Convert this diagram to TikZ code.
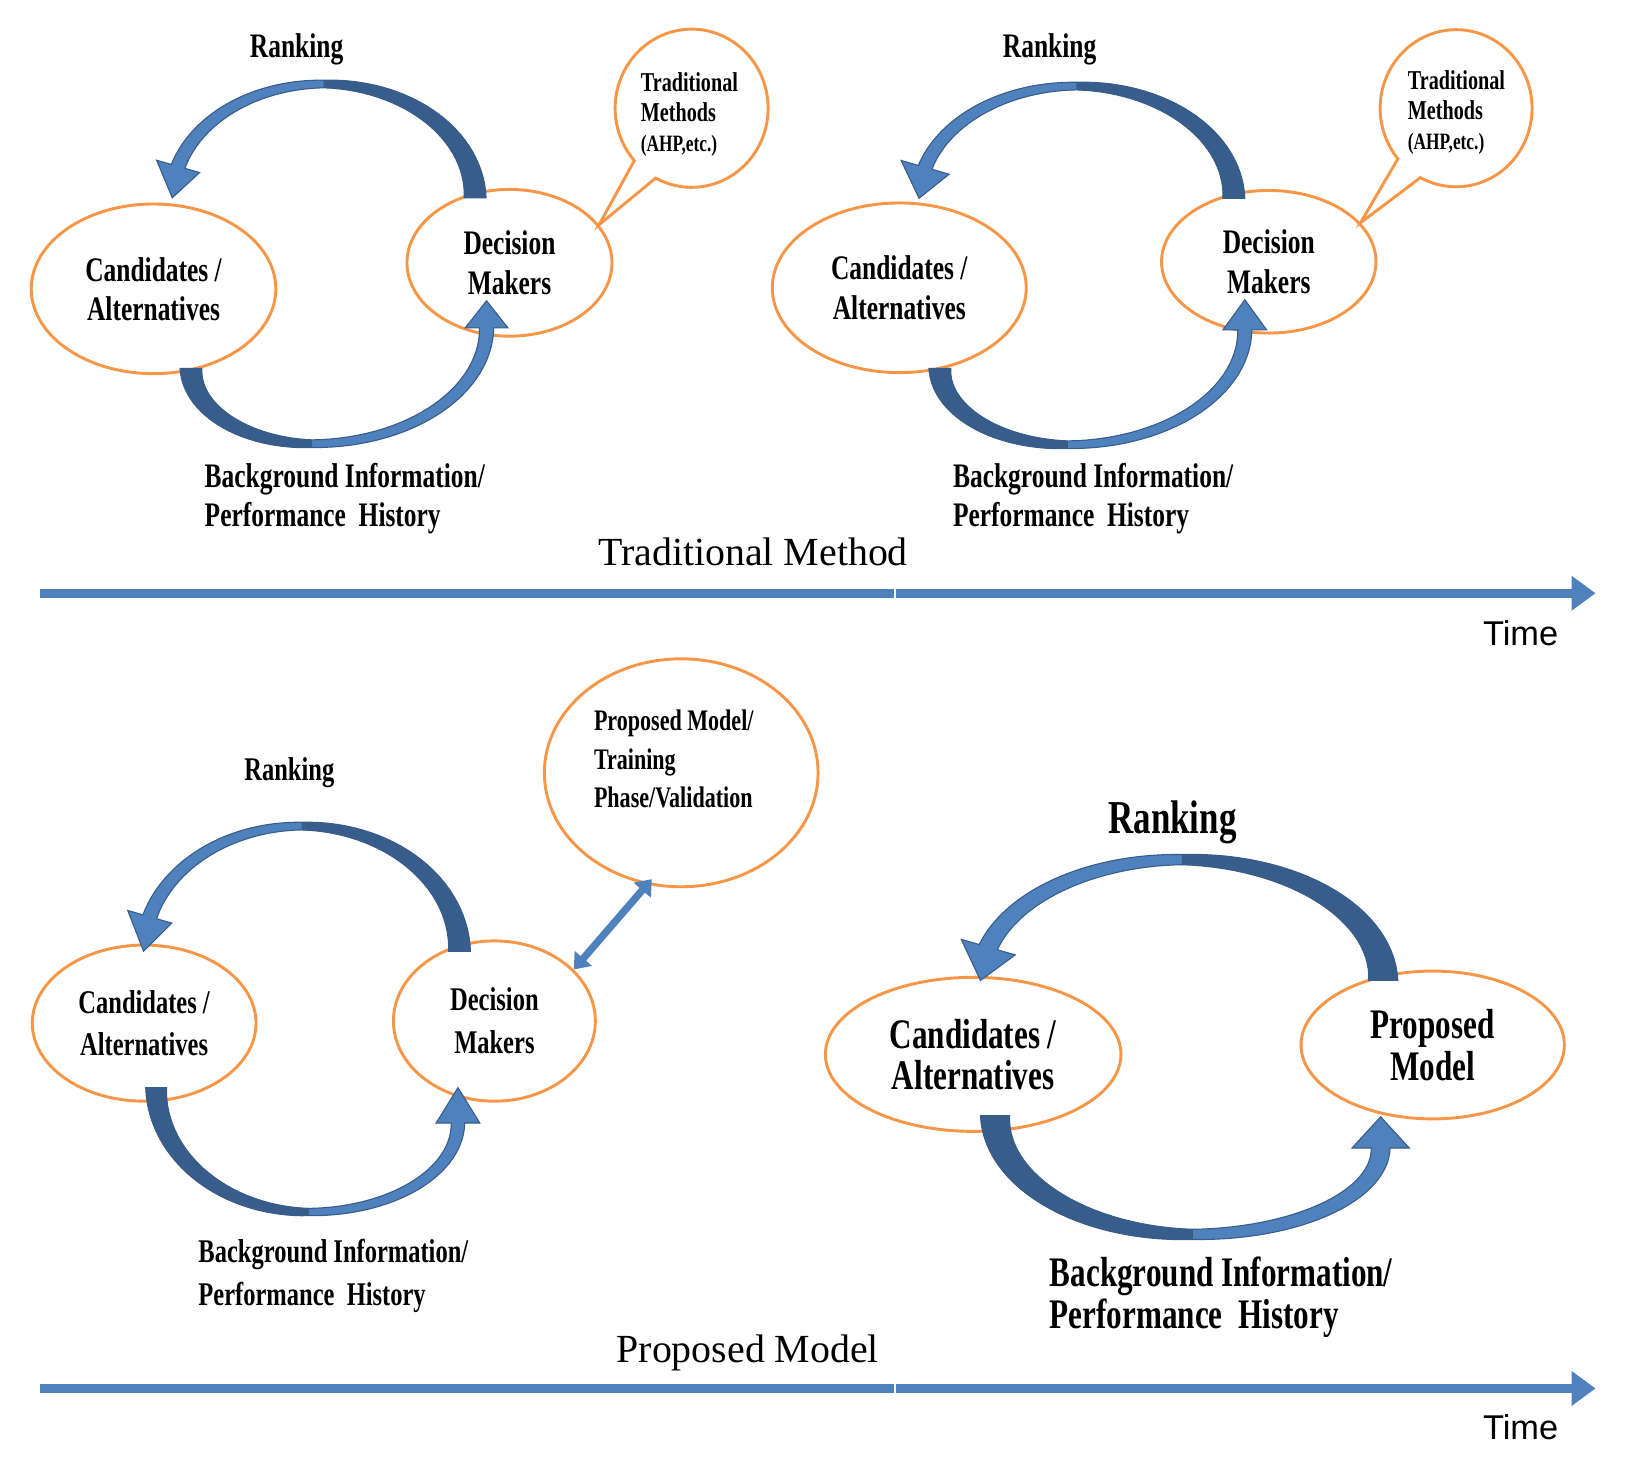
\documentclass[tikz,border=0pt]{standalone}
\usepackage{fontspec}
\setmainfont{Liberation Serif}
\newfontfamily\labelfont[FakeStretch=0.74]{Liberation Serif}
\newfontfamily\timefont{Liberation Sans}
\usepackage{tikz}
\usetikzlibrary{shapes.geometric,arrows.meta}
\definecolor{ringorange}{RGB}{247,150,70}
\definecolor{loopblue}{RGB}{79,129,189}
\definecolor{loopdark}{RGB}{56,93,138}

\newcommand{\RankArrow}[6]{%
\pgfmathsetmacro{\bandw}{0.65*#5}\pgfmathsetmacro{\peakw}{0.35*#5}%
\filldraw[loopbody] plot[domain=0:-90] ({#1+(#3+#5+(#5-\peakw)*(\x)/90)*cos(\x)},{#2+(#4+#5+(#5-\peakw)*(\x)/90)*sin(\x)}) -- plot[domain=-90:-164] ({#1+(#3+\peakw+(\bandw-\peakw)*(-90-(\x))/74)*cos(\x)},{#2+(#4+\peakw+(\bandw-\peakw)*(-90-(\x))/74)*sin(\x)}) -- ({#1+(#3+#6)*cos(-164)},{#2+(#4+#6)*sin(-164)}) -- ({#1-#3},{#2}) -- ({#1+(#3-#6)*cos(-164)},{#2+(#4-#6)*sin(-164)}) -- plot[domain=-164:-90] ({#1+(#3-\peakw-(\bandw-\peakw)*(-90-(\x))/74)*cos(\x)},{#2+(#4-\peakw-(\bandw-\peakw)*(-90-(\x))/74)*sin(\x)}) -- plot[domain=-90:0] ({#1+(#3-#5-(#5-\peakw)*(\x)/90)*cos(\x)},{#2+(#4-#5-(#5-\peakw)*(\x)/90)*sin(\x)}) -- cycle;
\fill[loopshade] plot[domain=0:-90] ({#1+(#3+#5+(#5-\peakw)*(\x)/90)*cos(\x)},{#2+(#4+#5+(#5-\peakw)*(\x)/90)*sin(\x)}) -- plot[domain=-90:0] ({#1+(#3-#5-(#5-\peakw)*(\x)/90)*cos(\x)},{#2+(#4-#5-(#5-\peakw)*(\x)/90)*sin(\x)}) -- cycle;}

\newcommand{\InfoArrow}[9]{%
\pgfmathsetmacro{\bandw}{0.65*#7}\pgfmathsetmacro{\peakw}{0.35*#7}%
\filldraw[loopbody] plot[domain=180:90] ({#1+(#3+\peakw+(#7-\peakw)*((\x)-90)/90)*cos(\x)},{#2+(#4-#2+\peakw+(#7-\peakw)*((\x)-90)/90)*sin(\x)}) -- plot[domain=90:0] ({#1+(#6+\bandw-(\bandw-\peakw)*(\x)/90)*cos(\x)},{#5+(#4-#5+\bandw-(\bandw-\peakw)*(\x)/90)*sin(\x)}) -- ({#1+#6+#8},{#5}) -- ({#1+#6},{#5-#9}) -- ({#1+#6-#8},{#5}) -- plot[domain=0:90] ({#1+(#6-\bandw+(\bandw-\peakw)*(\x)/90)*cos(\x)},{#5+(#4-#5-\bandw+(\bandw-\peakw)*(\x)/90)*sin(\x)}) -- plot[domain=90:180] ({#1+(#3-\peakw-(#7-\peakw)*((\x)-90)/90)*cos(\x)},{#2+(#4-#2-\peakw-(#7-\peakw)*((\x)-90)/90)*sin(\x)}) -- cycle;
\fill[loopshade] plot[domain=180:90] ({#1+(#3+\peakw+(#7-\peakw)*((\x)-90)/90)*cos(\x)},{#2+(#4-#2+\peakw+(#7-\peakw)*((\x)-90)/90)*sin(\x)}) -- plot[domain=90:180] ({#1+(#3-\peakw-(#7-\peakw)*((\x)-90)/90)*cos(\x)},{#2+(#4-#2-\peakw-(#7-\peakw)*((\x)-90)/90)*sin(\x)}) -- cycle;}

\begin{document}
\begin{tikzpicture}[x=0.1mm, y=-0.1mm, samples=30,
oval/.style={ellipse, draw=ringorange, line width=0.8pt, inner sep=0pt},
ringline/.style={draw=ringorange, line width=0.8pt},
loopbody/.style={fill=loopblue, draw=loopdark, line width=0.3pt},
loopshade/.style={fill=loopdark},
tag/.style={font=\labelfont\bfseries\fontsize{9.4}{10.7}\selectfont, align=center, inner sep=0pt},
tagsmall/.style={tag, font=\labelfont\bfseries\fontsize{9.05}{11.7}\selectfont},
tagbig/.style={tag, font=\labelfont\bfseries\fontsize{11.5}{11.3}\selectfont},
note/.style={font=\labelfont\bfseries\fontsize{7.45}{8.2}\selectfont, align=left, inner sep=0pt},
timeline/.style={draw=loopblue, line width=0.85mm},
phase/.style={font=\fontsize{10.9}{13}\selectfont, anchor=base, inner sep=0pt},
timetag/.style={font=\timefont\fontsize{9.4}{11}\selectfont, anchor=base, inner sep=0pt},
linkarrow/.style={draw=loopblue, line width=2pt, {Triangle[length=4pt,width=6pt]}-{Triangle[length=4pt,width=6pt]}}]
\useasboundingbox (0,0) rectangle (1568,1405);

\node[oval, minimum width=23.5mm, minimum height=16.3mm, tag] (Cand1) at (147.5,277.5) {Candidates /\\Alternatives};
\node[oval, minimum width=19.7mm, minimum height=14.1mm, tag] (Maker1) at (489.5,252.5) {Decision\\Makers};
\node[tag, anchor=base] (Rank1) at (285,55) {Ranking};
\node[tag, align=left, anchor=west] (Info1) at (196,479.2) {Background Information/\\Performance\ \ History};
\node[note, anchor=west] (Trad1) at (615,109.6) {Traditional\\Methods\\{\fontsize{6.4}{7}\selectfont(AHP,etc.)}};
\draw[ringline] plot[samples=90, domain=118:-221.5] ({664.5+73.5*cos(\x)},{104+76*sin(\x)}) -- (Maker1.23) -- cycle;
\RankArrow{311}{190}{145.5}{109.3}{10.5}{21.5}
\InfoArrow{300}{354}{116.5}{426.3}{315}{167.5}{10.5}{20.5}{26}

\node[oval, minimum width=24.4mm, minimum height=16.3mm, tag] (Cand2) at (864,276.5) {Candidates /\\Alternatives};
\node[oval, minimum width=20.6mm, minimum height=13.7mm, tag] (Maker2) at (1219,251.5) {Decision\\Makers};
\node[tag, anchor=base] (Rank2) at (1008.5,55) {Ranking};
\node[tag, align=left, anchor=west] (Info2) at (915,479.2) {Background Information/\\Performance\ \ History};
\node[note, anchor=west] (Trad2) at (1352,108) {Traditional\\Methods\\{\fontsize{6.4}{7}\selectfont(AHP,etc.)}};
\draw[ringline] plot[samples=90, domain=118:-220] ({1399+73*cos(\x)},{104+75.5*sin(\x)}) -- (Maker2.23) -- cycle;
\RankArrow{1034.25}{190.5}{151.25}{107.8}{10.5}{24}
\InfoArrow{1026}{354}{123}{427.3}{317}{170}{10.5}{21}{29}

\coordinate (T1a) at (38,570); \coordinate (T1b) at (859,570); \coordinate (T1c) at (861,570); \coordinate (T1d) at (1533,570);
\draw[timeline] (T1a) -- (T1b);
\draw[timeline, -{Triangle[length=2.3mm,width=3.2mm]}] (T1c) -- (T1d);
\node[phase] (Phase1) at (723.5,543) {Traditional Method};
\node[timetag] (Time1) at (1461,620) {Time};

\node[oval, minimum width=21.5mm, minimum height=15mm, tagsmall] (Cand3) at (138.5,983) {Candidates /\\Alternatives};
\node[oval, minimum width=19.4mm, minimum height=15.4mm, tagsmall] (Maker3) at (475,981) {Decision\\Makers};
\node[oval, minimum width=26.3mm, minimum height=21.9mm] (Model3) at (654.5,742.5) {};
\node[note, font=\labelfont\bfseries\fontsize{8.15}{10.5}\selectfont, anchor=west] (ModelText3) at (570,729.2) {Proposed Model/\\Training\\Phase/Validation};
\draw[linkarrow, shorten >=-2pt] (Maker3.33) -- (Model3.253);
\node[tagsmall, anchor=base] (Rank3) at (278,750) {Ranking};
\node[tagsmall, align=left, anchor=west] (Info3) at (190,1226) {Background Information/\\Performance\ \ History};
\RankArrow{289.75}{914}{151.75}{120.3}{10.5}{22}
\InfoArrow{297}{1045}{147}{1164.5}{1079}{143}{10}{21}{34}

\node[oval, minimum width=28.4mm, minimum height=14.8mm, tagbig] (Cand4) at (935,1013) {Candidates /\\Alternatives};
\node[oval, minimum width=25.3mm, minimum height=14.2mm, tagbig] (Model4) at (1376.5,1004) {Proposed\\Model};
\node[tagbig, font=\labelfont\bfseries\fontsize{12.9}{14}\selectfont, anchor=base] (Rank4) at (1126.5,800.5) {Ranking};
\node[tagbig, align=left, anchor=west] (Info4) at (1008,1246.5) {Background Information/\\Performance\ \ History};
\RankArrow{1135.5}{942}{193.5}{116.1}{14}{27}
\InfoArrow{1146}{1072}{190}{1186}{1103}{180.5}{14}{27.5}{30}

\coordinate (T2a) at (38,1334); \coordinate (T2b) at (859,1334); \coordinate (T2c) at (861,1334); \coordinate (T2d) at (1533,1334);
\draw[timeline] (T2a) -- (T2b);
\draw[timeline, -{Triangle[length=2.3mm,width=3.2mm]}] (T2c) -- (T2d);
\node[phase] (Phase2) at (718.5,1309) {Proposed Model};
\node[timetag] (Time2) at (1461,1383.5) {Time};
\end{tikzpicture}
\end{document}
